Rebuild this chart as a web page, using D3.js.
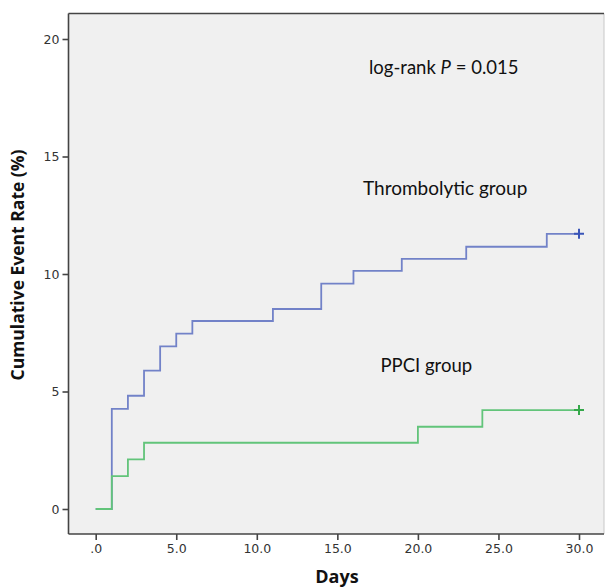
<!DOCTYPE html>
<html>
<head>
<meta charset="utf-8">
<script src="https://cdn.jsdelivr.net/npm/d3@7"></script>
<style>
  html, body { margin: 0; padding: 0; background: #fff; }
  svg { display: block; }
</style>
</head>
<body>
<svg id="chart" width="605" height="588"></svg>
<script>
// ---- data ----
const thromboDays  = [0, 1, 2, 3, 4, 5, 6, 11, 14, 16, 19, 23, 28, 30];
const thromboRates = [0, 4.26, 4.82, 5.89, 6.92, 7.46, 8.0, 8.51, 9.59, 10.13, 10.64, 11.16, 11.71, 11.71];
const ppciDays  = [0, 1, 2, 3, 20, 24, 30];
const ppciRates = [0, 1.40, 2.11, 2.82, 3.50, 4.21, 4.21];
const xTicks = [0, 5, 10, 15, 20, 25, 30];
const yTicks = [0, 5, 10, 15, 20];
const xTickLabels = [".0", "5.0", "10.0", "15.0", "20.0", "25.0", "30.0"];

const svg = d3.select("#chart");
const plot = { left: 68.5, top: 13.5, right: 604, bottom: 534 };

const x = d3.scaleLinear().domain([0, 30]).range([95.7, 579]);
const y = d3.scaleLinear().domain([0, 20]).range([509, 39]);

// plot background
svg.append("rect")
  .attr("x", plot.left).attr("y", plot.top)
  .attr("width", plot.right - plot.left).attr("height", plot.bottom - plot.top)
  .attr("fill", "#f0f0f0");
// right thin border
svg.append("line").attr("x1", plot.right).attr("x2", plot.right)
  .attr("y1", plot.top).attr("y2", plot.bottom)
  .attr("stroke", "#c8c8c8").attr("stroke-width", 1);
// top border
svg.append("line").attr("x1", plot.left).attr("x2", plot.right)
  .attr("y1", plot.top).attr("y2", plot.top)
  .attr("stroke", "#444").attr("stroke-width", 1.6);

// axes
const tickFont = "'DejaVu Sans', sans-serif";
const yAxis = d3.axisLeft(y).tickValues(yTicks).tickSize(6).tickPadding(3).tickFormat(d3.format("d"));
const gy = svg.append("g").attr("transform", `translate(${plot.left},0)`).call(yAxis);
gy.select(".domain").attr("d", `M0,${plot.top}V${plot.bottom}`).attr("stroke", "#444").attr("stroke-width", 1.6);

const xAxis = d3.axisBottom(x).tickValues(xTicks).tickSize(6).tickPadding(4)
  .tickFormat((d, i) => xTickLabels[i]);
const gx = svg.append("g").attr("transform", `translate(0,${plot.bottom})`).call(xAxis);
gx.select(".domain").attr("d", `M${plot.left},0H${plot.right}`).attr("stroke", "#444").attr("stroke-width", 1.6);

[gx, gy].forEach(g => {
  g.selectAll(".tick line").attr("stroke", "#444").attr("stroke-width", 1.6);
  g.selectAll(".tick text").attr("fill", "#333").style("font-family", tickFont).style("font-size", "12.5px");
});

// step lines
const line = d3.line().x(d => x(d[0])).y(d => y(d[1])).curve(d3.curveStepAfter);
const thromboData = thromboDays.map((d, i) => [d, thromboRates[i]]);
const ppciData = ppciDays.map((d, i) => [d, ppciRates[i]]);

svg.append("path").datum(thromboData).attr("d", line)
  .attr("fill", "none").attr("stroke", "#7282c8").attr("stroke-width", 1.8);
svg.append("path").datum(ppciData).attr("d", line)
  .attr("fill", "none").attr("stroke", "#62c47a").attr("stroke-width", 1.8);

// censor marks
function censor(d, color) {
  const cx = x(d[0]), cy = y(d[1]);
  svg.append("path").attr("d", `M${cx - 5},${cy}H${cx + 5}M${cx},${cy - 5}V${cy + 5}`)
    .attr("stroke", color).attr("stroke-width", 2);
}
censor(thromboData[thromboData.length - 1], "#3a55b8");
censor(ppciData[ppciData.length - 1], "#35a84a");

// annotations
const annFont = "Lato, 'Open Sans', sans-serif";
const t1 = svg.append("text").attr("x", 369).attr("y", 74)
  .style("font-family", annFont).style("font-size", "18.5px").attr("fill", "#111");
t1.append("tspan").text("log-rank ");
t1.append("tspan").style("font-style", "italic").text("P");
t1.append("tspan").text(" = 0.015");

svg.append("text").attr("x", 363).attr("y", 195)
  .style("font-family", annFont).style("font-size", "19px").attr("fill", "#111")
  .text("Thrombolytic group");
svg.append("text").attr("x", 380.5).attr("y", 372)
  .style("font-family", annFont).style("font-size", "18.5px").attr("fill", "#111")
  .text("PPCI group");

// axis titles
const titleFont = "'Open Sans', 'DejaVu Sans', sans-serif";
svg.append("text")
  .attr("transform", `translate(24,265) rotate(-90)`)
  .attr("text-anchor", "middle")
  .style("font-family", titleFont).style("font-weight", "bold").style("font-size", "17.5px")
  .attr("fill", "#111")
  .text("Cumulative Event Rate (%)");
svg.append("text")
  .attr("x", 337).attr("y", 583)
  .attr("text-anchor", "middle")
  .style("font-family", titleFont).style("font-weight", "bold").style("font-size", "18px")
  .attr("fill", "#111")
  .text("Days");
</script>
</body>
</html>
